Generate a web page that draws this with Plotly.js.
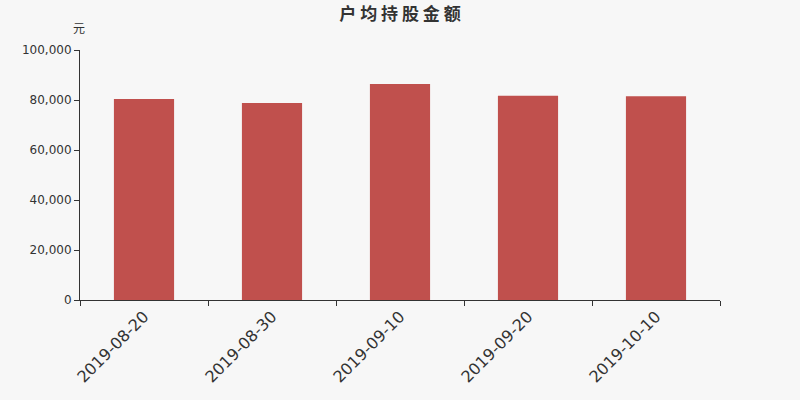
<!DOCTYPE html>
<html>
<head>
<meta charset="utf-8">
<script src="https://cdn.plot.ly/plotly-3.0.1.min.js"></script>
<style>
	html, body { margin: 0; padding: 0; background: #f7f7f7; }
	#chart { width: 800px; height: 400px; }
</style>
</head>
<body>
<div id="chart"></div>
<script>
const dates = ["2019-08-20", "2019-08-30", "2019-09-10", "2019-09-20", "2019-10-10"]
const amounts = [80400, 78800, 86400, 81700, 81500]

const axisFont = { family: "DejaVu Sans, sans-serif", size: 12, color: "#333" }

const trace = {
	type: "bar",
	x: dates,
	y: amounts,
	marker: { color: "#c0504d" },
	hoverinfo: "none"
}

const layout = {
	width: 800,
	height: 400,
	margin: { l: 80, r: 80, t: 50, b: 100 },
	paper_bgcolor: "#f7f7f7",
	plot_bgcolor: "#f7f7f7",
	bargap: 0.53,
	showlegend: false,
	title: {
		text: "<b>户 均 持 股 金 额</b>",
		x: 0.5,
		y: 0.966,
		yanchor: "middle",
		font: { family: "Noto Sans CJK SC, sans-serif", size: 17, color: "#333" }
	},
	xaxis: {
		type: "category",
		showline: true,
		linecolor: "#333",
		ticks: "outside",
		tickson: "boundaries",
		ticklen: 5,
		tickcolor: "#333",
		tickangle: -45,
		tickfont: { family: "DejaVu Sans, sans-serif", size: 16, color: "#333" },
		showgrid: false,
		zeroline: false
	},
	yaxis: {
		range: [0, 100000],
		dtick: 20000,
		tickformat: ",d",
		showline: true,
		linecolor: "#333",
		ticks: "outside",
		ticklen: 5,
		tickcolor: "#333",
		tickfont: axisFont,
		showgrid: false,
		zeroline: false
	},
	annotations: [{
		text: "元",
		xref: "paper",
		yref: "paper",
		x: 0,
		y: 1,
		xanchor: "center",
		yanchor: "bottom",
		xshift: -1,
		yshift: 12,
		showarrow: false,
		font: { family: "Noto Sans CJK SC, sans-serif", size: 12, color: "#333" }
	}]
}

Plotly.newPlot("chart", [trace], layout, { displayModeBar: false, staticPlot: true })
</script>
</body>
</html>
